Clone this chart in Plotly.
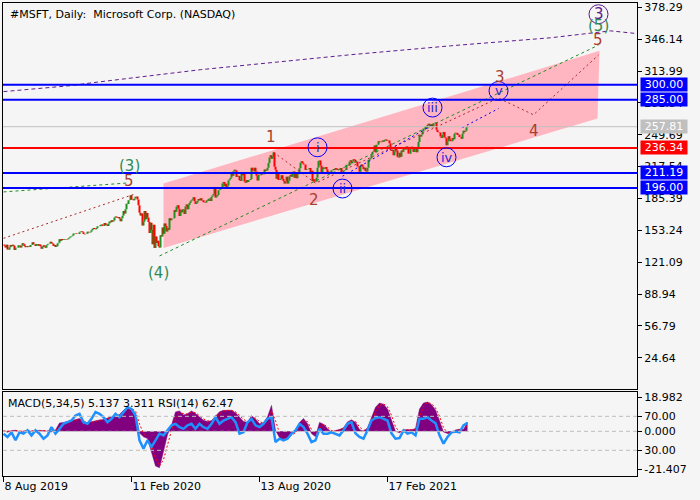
import plotly.graph_objects as go

# daily closes, one bar per trading day, 8 Aug 2019 .. 14 Jun 2021
close = [
    # Aug 2019
    138.9, 137.7, 135.8, 138.6, 134.0, 133.7, 136.1, 138.4, 137.3, 138.8,
    137.8, 133.4, 135.5, 135.7, 135.6, 138.1, 137.9,
    # Sep
    136.0, 137.6, 140.1, 139.1, 137.5, 136.1, 136.1, 137.5, 137.3, 136.3,
    138.5, 138.5, 141.1, 139.4, 139.1, 137.4, 139.4, 139.5, 137.7, 139.0,
    # Oct
    137.1, 134.7, 136.3, 138.1, 137.1, 135.7, 138.2, 139.1, 139.7, 139.6,
    141.6, 140.4, 139.7, 137.4, 138.4, 136.4, 137.2, 139.9, 140.7, 144.2,
    142.8, 144.6, 143.4,
    # Nov
    143.7, 144.6, 144.5, 144.1, 144.3, 145.3, 146.1, 147.1, 147.3, 148.1,
    150.0, 150.3, 150.4, 149.6, 149.5, 149.6, 151.2, 152.0, 152.3, 151.4,
    # Dec
    149.6, 149.3, 149.9, 149.9, 151.8, 151.4, 151.1, 151.7, 153.2, 154.5,
    155.5, 154.7, 154.4, 155.7, 157.4, 157.4, 157.4, 158.7, 159.0, 157.6,
    157.7,
    # Jan 2020
    160.6, 158.6, 159.0, 157.6, 160.1, 162.1, 161.3, 163.3, 162.1, 163.2,
    166.2, 167.1, 166.5, 165.7, 166.7, 165.0, 162.3, 165.5, 168.0, 172.8,
    170.2,
    # Feb
    174.4, 180.1, 179.9, 183.6, 183.9, 188.7, 184.4, 184.7, 183.7, 185.4,
    187.2, 187.3, 184.4, 178.6, 170.9, 168.1, 170.2, 158.2, 162.0,
    # Mar
    172.8, 164.5, 170.6, 166.3, 161.6, 150.6, 160.9, 153.6, 139.1, 158.8,
    135.4, 147.0, 140.4, 142.7, 137.4, 136.0, 148.3, 146.9, 156.1, 149.7,
    160.2, 157.7,
    # Apr
    152.1, 155.3, 153.8, 165.3, 163.5, 165.1, 165.1, 165.5, 173.7, 171.9,
    177.0, 178.6, 175.1, 167.8, 173.5, 171.4, 174.6, 174.1, 169.8, 177.4,
    179.2,
    # May
    174.6, 178.8, 180.8, 182.5, 183.6, 184.7, 186.7, 182.5, 179.8, 181.0,
    183.2, 184.9, 183.6, 185.7, 183.4, 183.5, 181.6, 181.8, 181.4, 183.3,
    # Jun
    182.8, 184.9, 185.4, 182.9, 187.2, 188.4, 189.8, 196.8, 186.3, 187.7,
    188.9, 193.6, 194.2, 196.3, 195.2, 200.6, 201.9, 197.8, 200.3, 196.3,
    198.4, 203.5,
    # Jul
    204.7, 206.3, 210.7, 208.3, 212.8, 214.3, 213.7, 207.1, 208.4, 208.0,
    203.9, 202.9, 211.6, 208.8, 211.8, 202.5, 201.3, 203.9, 202.0, 204.1,
    203.9, 205.0,
    # Aug
    216.5, 213.3, 212.9, 216.4, 212.5, 208.3, 203.4, 209.2, 208.7, 208.9,
    210.3, 211.5, 209.7, 214.6, 213.0, 213.7, 216.5, 221.2, 226.6, 228.9,
    225.5,
    # Sep
    227.3, 231.7, 217.3, 214.3, 205.4, 211.3, 204.0, 204.0, 205.4, 208.8,
    205.1, 202.9, 200.4, 202.5, 207.4, 200.6, 203.2, 207.8, 209.4, 207.3,
    210.3,
    # Oct
    212.5, 206.2, 210.4, 205.9, 209.8, 210.6, 215.8, 221.4, 222.9, 220.9,
    219.7, 219.7, 214.2, 214.7, 214.9, 214.9, 216.2, 210.1, 213.3, 202.7,
    204.7, 202.5,
    # Nov
    202.3, 206.4, 216.4, 223.3, 223.7, 218.4, 211.0, 216.6, 215.4, 216.5,
    217.2, 214.5, 211.1, 212.4, 210.4, 210.1, 213.9, 213.9, 215.2, 214.1,
    # Dec
    216.2, 215.4, 214.2, 214.4, 214.3, 216.0, 211.8, 210.5, 213.3, 214.2,
    214.1, 219.3, 219.4, 218.6, 222.6, 223.9, 221.0, 222.8, 225.0, 224.2,
    221.7, 222.4,
    # Jan 2021
    217.7, 218.0, 212.3, 218.3, 219.6, 217.5, 214.9, 216.3, 213.0, 212.7,
    216.4, 224.3, 225.0, 226.0, 229.5, 232.3, 232.9, 238.9, 232.0,
    # Feb
    239.7, 239.5, 243.0, 242.0, 242.2, 242.5, 243.8, 242.8, 244.5, 245.0,
    243.7, 244.2, 243.8, 241.0, 234.5, 233.3, 234.6, 229.0, 232.4,
    # Mar
    236.9, 233.9, 227.6, 226.7, 231.6, 227.4, 233.8, 232.4, 237.1, 235.8,
    234.8, 237.7, 237.0, 230.7, 230.4, 236.0, 237.6, 235.5, 232.3, 236.5,
    235.2, 231.9, 235.8,
    # Apr
    242.4, 249.1, 247.9, 249.9, 253.3, 255.9, 255.9, 258.5, 255.6, 259.5,
    260.7, 258.7, 258.3, 260.6, 257.2, 261.2, 261.6, 262.0, 254.6, 252.5,
    252.2,
    # May
    251.9, 247.8, 246.5, 249.7, 252.5, 247.2, 246.2, 239.0, 243.0, 248.2,
    245.2, 243.1, 243.1, 246.5, 245.2, 250.8, 251.7, 251.5, 249.3, 249.7,
    # Jun
    247.4, 247.3, 245.7, 250.8, 253.8, 252.6, 253.6, 257.2, 257.9, 257.81,
]

# MACD(5,34,5) main (histogram) and signal, RSI(14) - read every 4th bar
macd_main = [
    0.3, -0.5, 0.4, 0.6, -0.3, 0.2, 0.5, -0.2, 0.4, 0.6,
    0.3, 0.2, -0.3, 0.8, 4.7, 5.0, 5.3, 5.9, 6.6, 7.2,
    4.4, 5.0, 5.3, 6.0, 6.4, 6.6, 7.5, 8.3, 8.5, 9.5,
    11.8, 13.5, 12.5, 10.0, -1.0, -3.1, -4.1, -12.0, -19.5, -20.5,
    -12.0, -2.0, 3.5, 10.9, 11.5, 9.2, 9.9, 11.5, 10.0, 8.0,
    6.2, 5.5, 6.0, 8.5, 11.0, 11.8, 11.8, 11.8, 10.5, 8.0,
    5.5, 5.0, 8.8, 7.0, 4.3, 4.8, 8.2, 14.6, 0.5, -3.5,
    -5.0, -4.1, -1.0, -0.4, 5.0, 7.2, 4.3, -1.3, -3.0, 5.0,
    4.0, 1.5, -0.4, 0.5, 1.0, 2.0, 5.3, 6.5, 5.0, 1.0,
    0.0, 2.0, 8.0, 13.5, 15.9, 15.2, 12.5, 6.5, 0.0, -0.8,
    0.9, 0.9, 0.9, 1.5, 12.5, 15.9, 16.5, 15.0, 12.0, 6.0,
    -0.4, -1.2, -1.1, 0.8, 1.2, 1.0, 5.137,
]
macd_signal = [
    0.2, 0.0, 0.1, 0.4, 0.2, 0.0, 0.3, 0.2, 0.2, 0.4,
    0.4, 0.3, 0.0, 0.3, 2.5, 4.2, 5.0, 5.5, 6.1, 6.8,
    5.8, 5.0, 5.1, 5.6, 6.1, 6.5, 7.0, 7.8, 8.3, 9.0,
    10.5, 12.3, 12.8, 11.5, 4.0, -1.0, -3.5, -8.0, -15.0, -19.5,
    -16.0, -7.0, 0.5, 7.0, 10.5, 10.0, 9.7, 10.8, 10.5, 8.8,
    7.0, 5.9, 5.8, 7.2, 9.8, 11.3, 11.8, 11.8, 11.0, 9.0,
    6.8, 5.3, 7.0, 7.5, 5.5, 4.6, 6.5, 11.5, 6.0, -1.0,
    -4.0, -4.4, -2.2, -0.8, 2.5, 6.0, 5.5, 1.0, -2.0, 1.5,
    4.2, 2.5, 0.5, 0.2, 0.8, 1.6, 3.8, 5.8, 5.6, 2.5,
    0.5, 1.2, 5.5, 11.0, 14.8, 15.5, 13.8, 9.0, 2.5, -0.4,
    0.3, 0.9, 0.9, 1.3, 8.0, 14.0, 16.2, 15.6, 13.2, 8.5,
    2.0, -0.8, -1.1, 0.2, 1.0, 1.1, 3.311,
]
rsi = [
    49.6, 45.7, 51.2, 41.8, 51.2, 49.6, 53.5, 47.6, 53.5, 49.6,
    43.7, 47.6, 57.3, 49.6, 55.3, 61.2, 63.1, 65.1, 71.0, 72.9,
    63.1, 61.2, 67.1, 74.9, 72.9, 69.0, 63.1, 67.1, 72.9, 69.0,
    74.9, 80.8, 78.8, 71.0, 41.8, 32.0, 41.8, 34.0, 41.8, 49.6,
    47.6, 53.5, 59.4, 61.2, 57.3, 55.3, 59.4, 61.2, 55.3, 61.2,
    57.3, 55.3, 61.2, 69.0, 61.2, 65.1, 67.1, 69.0, 63.1, 49.6,
    51.2, 63.1, 67.1, 59.4, 57.3, 61.2, 67.1, 69.0, 39.8, 43.7,
    41.8, 43.7, 49.6, 53.5, 61.2, 57.3, 49.6, 39.8, 41.8, 55.3,
    49.6, 49.6, 51.2, 49.6, 47.6, 53.5, 61.2, 63.1, 50.0, 45.7,
    43.7, 53.5, 65.1, 68.0, 69.0, 67.1, 65.1, 50.0, 43.7, 44.5,
    53.5, 49.6, 51.2, 47.6, 67.1, 67.1, 69.0, 65.1, 62.0, 47.6,
    37.9, 45.7, 51.2, 52.0, 51.2, 59.4, 62.47,
]

tick_idx = [0, 128, 256, 384]
tick_text = ["8 Aug 2019", "11 Feb 2020", "13 Aug 2020", "17 Feb 2021"]
price_ticks = [378.29, 346.14, 313.99, 281.84, 249.69, 217.54,
               185.39, 153.24, 121.09, 88.94, 56.79, 24.64]

# analysis drawn on the chart: (bar index, price)
channel = [(160, 200.6), (596, 334.3), (594, 266.0), (160, 135.3)]
arc_line = [(0, 293.2), (67, 299.2), (90, 302.3), (197, 315.3), (347, 330.4),
            (447, 339.4), (547, 347.5), (607, 354.5), (633, 351.8)]
minor_left = [(0, 145.2), (130, 189.4)]
minor_wave = [(270, 232.0), (312, 200.8), (495, 286.7), (530, 269.8), (595, 330.1)]
inter_left = [(0, 192.0), (124, 201.0)]
inter_wave = [(156, 127.4), (595, 340.1)]
minute_a = [(339, 207.8), (430, 260.0)]
minute_b = [(459, 257.0), (495, 276.1)]

# (text, bar index, price)
green_labels = [("(3)", 126, 217.8), ("(4)", 155, 110.6), ("(5)", 595, 359.2)]
brown_labels = [("5", 125, 203.5), ("1", 267, 247.0), ("2", 310, 183.4),
                ("3", 496, 308.3), ("4", 530, 253.0), ("5", 594, 345.1)]
circled = [("i", 314, 237.0), ("ii", 339, 195.4), ("iii", 429, 277.1),
           ("iv", 443, 226.9), ("v", 495, 293.9)]
big_circled = ("3", 595, 371.3)

levels = [(300.00, "#0000FF"), (285.00, "#0000FF"), (257.81, "#C0C0C0"),
          (236.34, "#FF0000"), (211.19, "#0000FF"), (196.00, "#0000FF")]

BG = "#F5F5F5"
FONT = "DejaVu Sans"
PX_Y = 389.8 / 388  # price units per pixel

opens = [close[0]] + close[:-1]
highs = [max(o, c) for o, c in zip(opens, close)]
lows = [min(o, c) for o, c in zip(opens, close)]
bar_idx = list(range(len(close)))
ind_idx = list(range(0, len(close), 4))

fig = go.Figure()

fig.add_trace(go.Ohlc(
    x=bar_idx, open=opens, high=highs, low=lows, close=close,
    increasing=dict(line=dict(color="#1F8F1F", width=2)),
    decreasing=dict(line=dict(color="#FF0000", width=2)),
    tickwidth=0, hoverinfo="skip", xaxis="x", yaxis="y",
))


def dotted(points, color, dash):
    fig.add_trace(go.Scatter(
        x=[p[0] for p in points], y=[p[1] for p in points], mode="lines",
        line=dict(color=color, width=1, dash=dash), hoverinfo="skip",
        xaxis="x", yaxis="y",
    ))


dotted(arc_line, "#5E1B8C", "4px,3px")
dotted(minor_left, "#A52A2A", "2px,3px")
dotted(minor_wave, "#A52A2A", "2px,3px")
dotted(inter_left, "#228B22", "3px,3px")
dotted(inter_wave, "#228B22", "3px,3px")
dotted(minute_a, "#0000FF", "2px,3px")
dotted(minute_b, "#0000FF", "2px,3px")

# MACD + RSI panel
fig.add_trace(go.Scatter(
    x=ind_idx, y=macd_main, mode="lines", fill="tozeroy",
    fillcolor="#800080", line=dict(color="#800080", width=0.5),
    hoverinfo="skip", xaxis="x2", yaxis="y2",
))
fig.add_trace(go.Scatter(
    x=ind_idx, y=macd_signal, mode="lines",
    line=dict(color="#FF0000", width=1, dash="2px,2px"),
    hoverinfo="skip", xaxis="x2", yaxis="y2",
))
fig.add_trace(go.Scatter(
    x=ind_idx, y=rsi, mode="lines",
    line=dict(color="#1E90FF", width=2.5),
    hoverinfo="skip", xaxis="x2", yaxis="y3",
))

shapes = []
path = "M " + " L ".join(f"{x},{y}" for x, y in channel) + " Z"
shapes.append(dict(type="path", path=path, xref="x", yref="y",
                   fillcolor="#FFB6C1", line=dict(width=0), layer="below"))
for val, col in levels:
    shapes.append(dict(type="line", xref="x domain", yref="y", x0=0, x1=1,
                       y0=val, y1=val,
                       line=dict(color=col, width=1 if col == "#C0C0C0" else 2)))
for ref, val in [("y2", 0), ("y3", 70), ("y3", 30)]:
    shapes.append(dict(type="line", xref="x2 domain", yref=ref, x0=0, x1=1,
                       y0=val, y1=val,
                       line=dict(color="#BDBDBD", width=1, dash="4px,3px")))
R = 9.5
for txt, xi, pr in circled:
    shapes.append(dict(type="circle", xref="x", yref="y", x0=xi - R, x1=xi + R,
                       y0=pr - R * PX_Y, y1=pr + R * PX_Y,
                       line=dict(color="#0000FF", width=1)))
shapes.append(dict(type="circle", xref="x", yref="y",
                   x0=big_circled[1] - R, x1=big_circled[1] + R,
                   y0=big_circled[2] - R * PX_Y, y1=big_circled[2] + R * PX_Y,
                   line=dict(color="#5E1B8C", width=1)))

ann = []
for txt, xi, pr in green_labels:
    ann.append(dict(text=txt, x=xi, y=pr, xref="x", yref="y", showarrow=False,
                    font=dict(family=FONT, size=15, color="#2E8B57")))
for txt, xi, pr in brown_labels:
    ann.append(dict(text=txt, x=xi, y=pr, xref="x", yref="y", showarrow=False,
                    font=dict(family=FONT, size=15, color="#A8402E")))
for txt, xi, pr in circled:
    ann.append(dict(text=txt, x=xi, y=pr, xref="x", yref="y", showarrow=False,
                    font=dict(family=FONT, size=13, color="#2424D8")))
ann.append(dict(text=big_circled[0], x=big_circled[1], y=big_circled[2],
                xref="x", yref="y", showarrow=False,
                font=dict(family=FONT, size=15, color="#5E1B8C")))

for val, col in levels:
    ann.append(dict(text=f"{val:.2f}", x=1, y=val, xref="paper", yref="y",
                    xanchor="left", xshift=3, showarrow=False, bgcolor=col,
                    width=46, height=13, borderpad=0,
                    font=dict(family=FONT, size=11, color="white")))

ann.append(dict(text="#MSFT, Daily:  Microsoft Corp. (NASDAQ)", x=0, y=1,
                xref="paper", yref="paper", xanchor="left", yanchor="top",
                xshift=5, yshift=-3, showarrow=False,
                font=dict(family=FONT, size=11, color="black")))
ann.append(dict(text="MACD(5,34,5) 5.137 3.311 RSI(14) 62.47", x=0, y=1,
                xref="paper", yref="y2 domain", xanchor="left", yanchor="top",
                xshift=3, yshift=-3, showarrow=False,
                font=dict(family=FONT, size=11, color="black")))

axis_common = dict(showgrid=False, zeroline=False, showline=True, mirror=True,
                   linecolor="black", linewidth=1)

fig.update_layout(
    width=700, height=500,
    margin=dict(l=3, r=63, t=1, b=24),
    paper_bgcolor=BG, plot_bgcolor=BG,
    showlegend=False,
    font=dict(family=FONT, size=11, color="black"),
    shapes=shapes, annotations=ann,
    xaxis=dict(domain=[0, 1], range=[-0.5, 633.5], anchor="y",
               showticklabels=False, ticks="",
               rangeslider=dict(visible=False), **axis_common),
    yaxis=dict(domain=[0.1832, 1], range=[-7.2, 382.6], side="right",
               tickvals=price_ticks, ticktext=[f"{v:.2f}" for v in price_ticks],
               ticks="outside", ticklen=4, tickcolor="black",
               ticklabeloverflow="allow", **axis_common),
    xaxis2=dict(domain=[0, 1], range=[-0.5, 633.5], anchor="y2",
                tickvals=tick_idx, ticktext=tick_text, ticks="outside",
                ticklen=5, tickcolor="black", ticklabelposition="outside right",
                **axis_common),
    yaxis2=dict(domain=[0, 0.1775], range=[-25.17, 22.12], side="right",
                anchor="x2", tickvals=[18.982, 0, -21.407],
                ticktext=["18.982", "0.000", "-21.407"],
                ticks="outside", ticklen=4, tickcolor="black", **axis_common),
    yaxis3=dict(overlaying="y2", anchor="x2", side="right",
                range=[-0.2, 98.6], tickvals=[70, 30],
                ticktext=["70.00", "30.00"], ticks="outside", ticklen=4,
                tickcolor="black", showgrid=False, zeroline=False),
)

# the page body has a default 8px margin; drop it so the chart sits at 0,0
fig.write_html("out.html", config={"displayModeBar": False},
               post_script="document.body.style.margin='0';")
